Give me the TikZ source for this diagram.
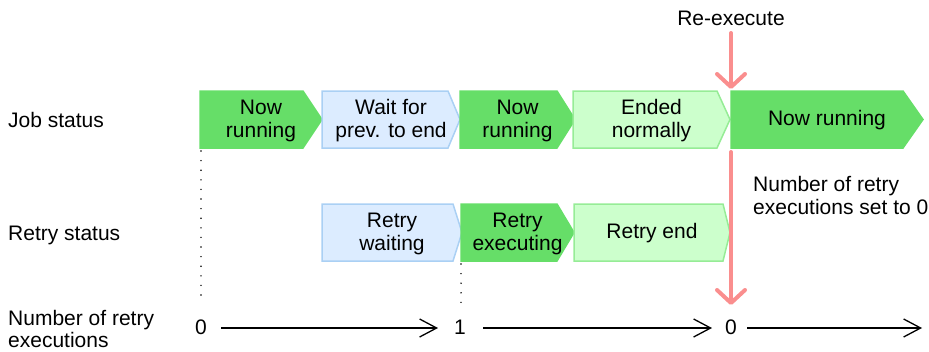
\documentclass[tikz,border=0pt]{standalone}
\usepackage{fontspec}
\setmainfont{Liberation Sans}
\usetikzlibrary{arrows.meta}
\definecolor{dkg}{RGB}{102,222,104}
\definecolor{ltg}{RGB}{204,255,204}
\definecolor{ltgb}{RGB}{150,236,150}
\definecolor{ltb}{RGB}{220,236,255}
\definecolor{ltbb}{RGB}{170,208,244}
\definecolor{redl}{RGB}{250,142,142}
\newcommand\chevbox[8]{%
  \draw[#2] (#3,#6) -- (#4,#6) -- (#5,{(#6+#7)/2}) -- (#4,#7) -- (#3,#7) -- cycle;
  \node[lbl] (#1) at ({(#3+#5)/2},{(#6+#7)/2+1}) {#8};}
\begin{document}
\begin{tikzpicture}[x=1pt,y=-1pt,
  txt/.style={font=\fontsize{21}{23}\selectfont, inner sep=0pt},
  lbl/.style={txt, align=center},
  dgbox/.style={fill=dkg, draw=dkg, line width=1.5pt, line join=miter},
  lgbox/.style={fill=ltg, draw=ltgb, line width=1.5pt},
  lbbox/.style={fill=ltb, draw=ltbb, line width=1.5pt},
  redarrow/.style={draw=redl, line width=4pt, line cap=round, -{Straight Barb[length=13pt,width=28pt,round]}},
  axisarrow/.style={line width=1.3pt, -{Straight Barb[length=17pt,width=18pt]}},
  dotline/.style={line width=1.6pt, dash pattern=on 0pt off 9.6pt, line cap=round}]
\useasboundingbox (0,0) rectangle (929,351);

% red re-execute arrow (top)
\node[txt] (reexec) at (731,18) {Re-execute};
\coordinate (rtop) at (731,33);
\coordinate (rmid) at (731,89);
\draw[redarrow] (rtop) -- (rmid);

% job status row
\node[txt, anchor=base west] (jobst) at (8,127) {Job status};
\chevbox{j1}{dgbox}{200}{303}{322}{91}{148}{Now\\running}
\chevbox{j2}{lbbox}{322}{448}{460}{91}{148}{Wait for\\prev. to end}
\chevbox{j3}{dgbox}{460}{557}{575}{91}{148}{Now\\running}
\chevbox{j4}{lgbox}{573}{717}{730}{91}{148}{Ended\\normally}
\chevbox{j5}{dgbox}{731}{903}{923}{91}{148}{Now running}

% retry status row
\node[txt, anchor=base west] (retryst) at (8,240) {Retry status};
\chevbox{r1}{lbbox}{322}{453}{462}{204}{261}{Retry\\waiting}
\chevbox{r2}{dgbox}{461}{557}{574}{204}{261}{Retry\\executing}
\chevbox{r3}{lgbox}{574}{723}{730}{204}{261}{Retry end}

% red lower arrow
\coordinate (rlow) at (731,152);
\coordinate (rbot) at (731,305);
\draw[redarrow] (rlow) -- (rbot);

\node[txt, anchor=base west, align=left] (setzero) at (753,214) {Number of retry\\executions set to 0};

% number of retry executions
\node[txt, anchor=base west, align=left, font=\fontsize{21}{22}\selectfont] (nre) at (8,347) {Number of retry\\executions};
\node[txt] (n0) at (201,327) {0};
\node[txt] (n1) at (460,327) {1};
\node[txt] (n2) at (731,327) {0};
\coordinate (a0s) at (221,328);
\coordinate (a0e) at (438,328);
\coordinate (a1s) at (483,328);
\coordinate (a1e) at (712,328);
\coordinate (a2s) at (747,328);
\coordinate (a2e) at (922,328);
\draw[axisarrow] (a0s) -- (a0e);
\draw[axisarrow] (a1s) -- (a1e);
\draw[axisarrow] (a2s) -- (a2e);

% dotted lines
\coordinate (d0s) at (201,151);
\coordinate (d0e) at (201,304);
\coordinate (d1s) at (461,264);
\coordinate (d1e) at (461,304);
\draw[dotline] (d0s) -- (d0e);
\draw[dotline] (d1s) -- (d1e);
\end{tikzpicture}
\end{document}
